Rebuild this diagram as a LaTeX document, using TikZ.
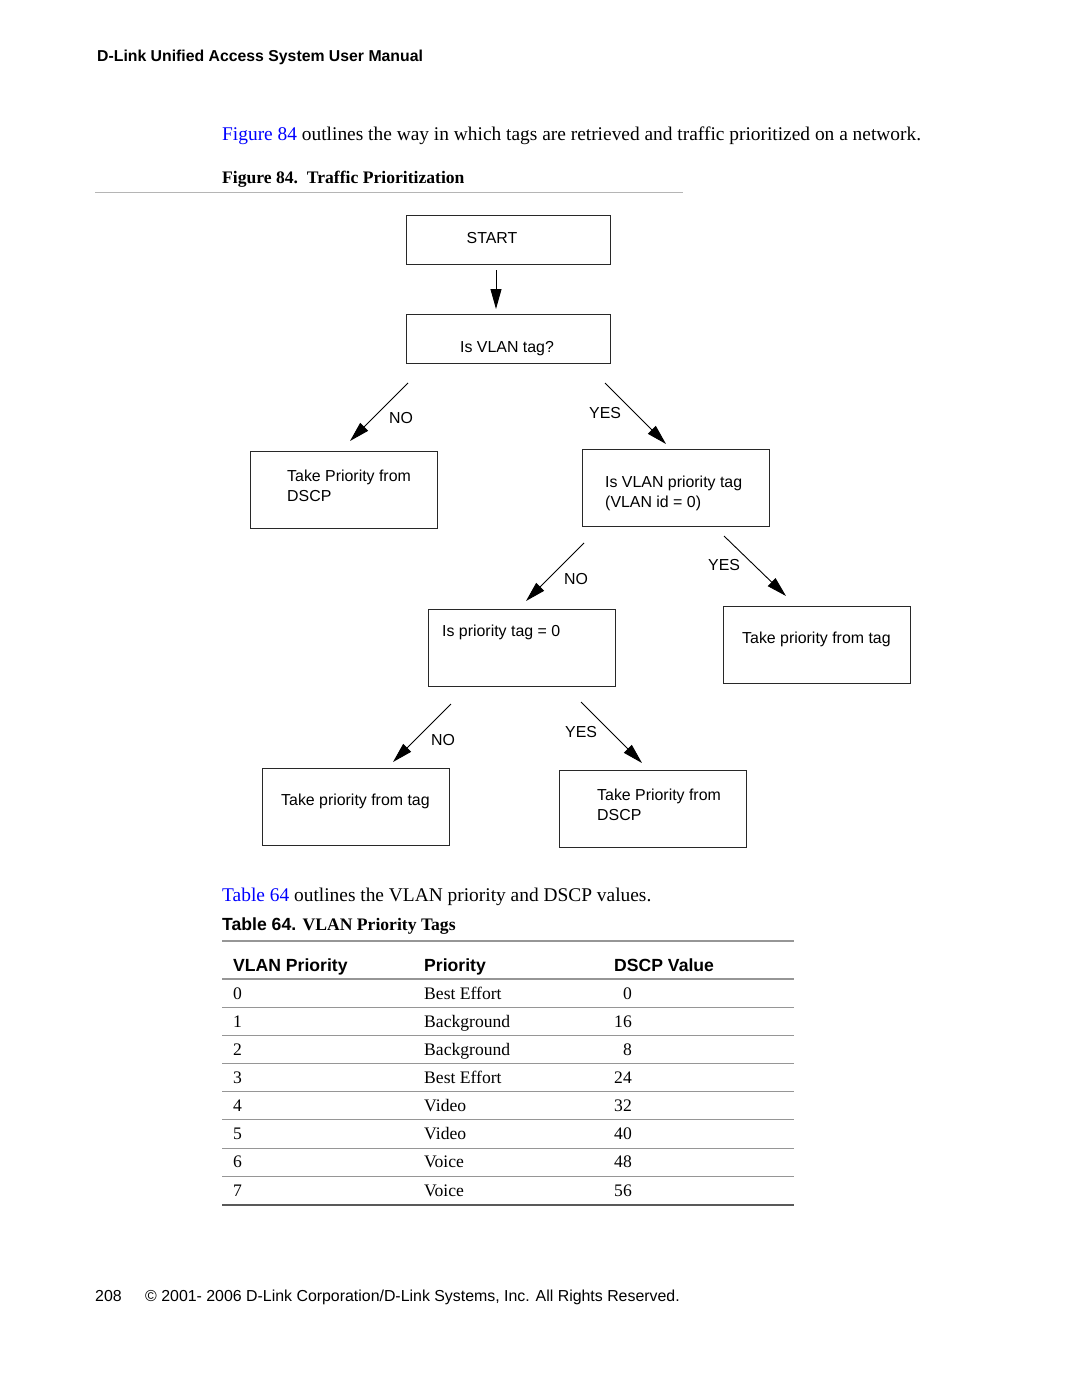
\documentclass[tikz,border=0pt]{standalone}
\usepackage{fontspec}
\setmainfont{Liberation Serif}
\setsansfont{Liberation Sans}
\usetikzlibrary{arrows.meta}
\definecolor{linkblue}{RGB}{0,0,255}
\definecolor{rulegray}{RGB}{150,150,150}
\definecolor{boxline}{RGB}{40,40,40}
\begin{document}
\begin{tikzpicture}[x=1pt,y=-1pt,
  txt/.style={inner sep=0pt,anchor=base west},
  sans/.style={txt,font=\fontsize{15.9}{19.5}\selectfont\sffamily,align=left},
  body/.style={txt,font=\fontsize{19.4}{23}\selectfont},
  tbl/.style={txt,font=\fontsize{17.6}{21}\selectfont},
  tblhead/.style={txt,font=\fontsize{17.6}{21}\selectfont\sffamily\bfseries},
  fbox/.style={draw=boxline,line width=1pt,minimum width=187pt,minimum height=77pt,anchor=north west,inner sep=0pt},
  arr/.style={line width=0.9pt,-{Triangle[length=20pt,width=11pt]}},
  thinrule/.style={draw=rulegray,line width=0.8pt},
  thickrule/.style={draw=rulegray,line width=2pt}]
\useasboundingbox[fill=white] (0,0) rectangle (1080,1397);

% page header
\node[txt,font=\fontsize{15.8}{19}\selectfont\sffamily\bfseries] (hdr) at (97,61.7) {D-Link Unified Access System User Manual};
\node[body] (intro) at (222,140) {\textcolor{linkblue}{Figure 84} outlines the way in which tags are retrieved and traffic prioritized on a network.};
\node[txt,font=\fontsize{17.6}{21}\selectfont\bfseries] (figcap) at (222,183) {Figure 84.\ \ Traffic Prioritization};
\coordinate (capL) at (95,192);
\coordinate (capR) at (683,192);
\draw[draw=rulegray!70,line width=1pt] (capL) -- (capR);

% flowchart boxes
\node[fbox,minimum width=204pt,minimum height=49pt] (start) at (406,215) {};
\node[sans] (startT) at (466.5,243.3) {START};
\node[fbox,minimum width=204pt,minimum height=49pt] (isvlan) at (406,314) {};
\node[sans] (isvlanT) at (460,352) {Is VLAN tag?};

\node[fbox] (dscp1) at (250,451) {};
\node[sans] (dscp1T) at (287,501) {Take Priority from\\DSCP};
\node[fbox] (vlanprio) at (582,449) {};
\node[sans] (vlanprioT) at (605,507) {Is VLAN priority tag\\(VLAN id = 0)};

\node[fbox] (prio0) at (428,609) {};
\node[sans] (prio0T) at (442,636) {Is priority tag = 0};
\node[fbox] (tag1) at (723,606) {};
\node[sans] (tag1T) at (742,643.5) {Take priority from tag};

\node[fbox] (tag2) at (262,768) {};
\node[sans] (tag2T) at (281,805.5) {Take priority from tag};
\node[fbox] (dscp2) at (559,770) {};
\node[sans] (dscp2T) at (597,820) {Take Priority from\\DSCP};

% arrow end points
\coordinate (a1s) at (496,270);   \coordinate (a1e) at (496,309);
\coordinate (a2s) at (408,383);   \coordinate (a2e) at (350,441);
\coordinate (a3s) at (605,383);   \coordinate (a3e) at (666,444);
\coordinate (a4s) at (584,543);   \coordinate (a4e) at (526,601);
\coordinate (a5s) at (724,536);   \coordinate (a5e) at (786,596);
\coordinate (a6s) at (451,704);   \coordinate (a6e) at (393,762);
\coordinate (a7s) at (581,702);   \coordinate (a7e) at (642,763);
\draw[arr] (a1s) -- (a1e);
\draw[arr] (a2s) -- (a2e);
\draw[arr] (a3s) -- (a3e);
\draw[arr] (a4s) -- (a4e);
\draw[arr] (a5s) -- (a5e);
\draw[arr] (a6s) -- (a6e);
\draw[arr] (a7s) -- (a7e);

% arrow labels
\node[sans] (l2) at (389,423.7) {NO};
\node[sans] (l3) at (589,418) {YES};
\node[sans] (l4) at (564,584) {NO};
\node[sans] (l5) at (708,570) {YES};
\node[sans] (l6) at (431,745) {NO};
\node[sans] (l7) at (565,737) {YES};

% table text
\node[body] (tintro) at (222,901) {\textcolor{linkblue}{Table 64} outlines the VLAN priority and DSCP values.};
\node[txt,font=\fontsize{17.6}{21}\selectfont] (tcap) at (222,930) {\sffamily\bfseries Table 64. \rmfamily\bfseries VLAN Priority Tags};

\coordinate (r0L) at (222,941); \coordinate (r0R) at (794,941);
\draw[thickrule] (r0L) -- (r0R);
\node[tblhead] (h1) at (233,971) {VLAN Priority};
\node[tblhead] (h2) at (424,971) {Priority};
\node[tblhead] (h3) at (614,971) {DSCP Value};
\coordinate (r1L) at (222,979); \coordinate (r1R) at (794,979);
\draw[thickrule] (r1L) -- (r1R);

\foreach \i/\p/\d in {0/Best Effort/0,1/Background/16,2/Background/8,3/Best Effort/24,4/Video/32,5/Video/40,6/Voice/48,7/Voice/56}{
  \pgfmathsetmacro{\yb}{999+28.15*\i}
  \node[tbl] (c1\i) at (233,\yb) {\i};
  \node[tbl] (c2\i) at (424,\yb) {\p};
  \node[tbl,anchor=base east] (c3\i) at (632,\yb) {\d};
}
\foreach \i in {1,...,7}{
  \pgfmathsetmacro{\yl}{979+28.15*\i}
  \coordinate (gl\i) at (222,\yl);
  \coordinate (gr\i) at (794,\yl);
  \draw[thinrule] (gl\i) -- (gr\i);
}
\coordinate (rbL) at (222,1205); \coordinate (rbR) at (794,1205);
\draw[draw=black!65,line width=1.4pt] (rbL) -- (rbR);

% footer
\node[txt,font=\fontsize{15.9}{19}\selectfont\sffamily] (pg) at (95,1301) {208};
\node[txt,font=\fontsize{15.9}{19}\selectfont\sffamily] (copy) at (145,1301) {© 2001- 2006 D-Link Corporation/D-Link Systems, Inc. All Rights Reserved.};
\end{tikzpicture}
\end{document}
